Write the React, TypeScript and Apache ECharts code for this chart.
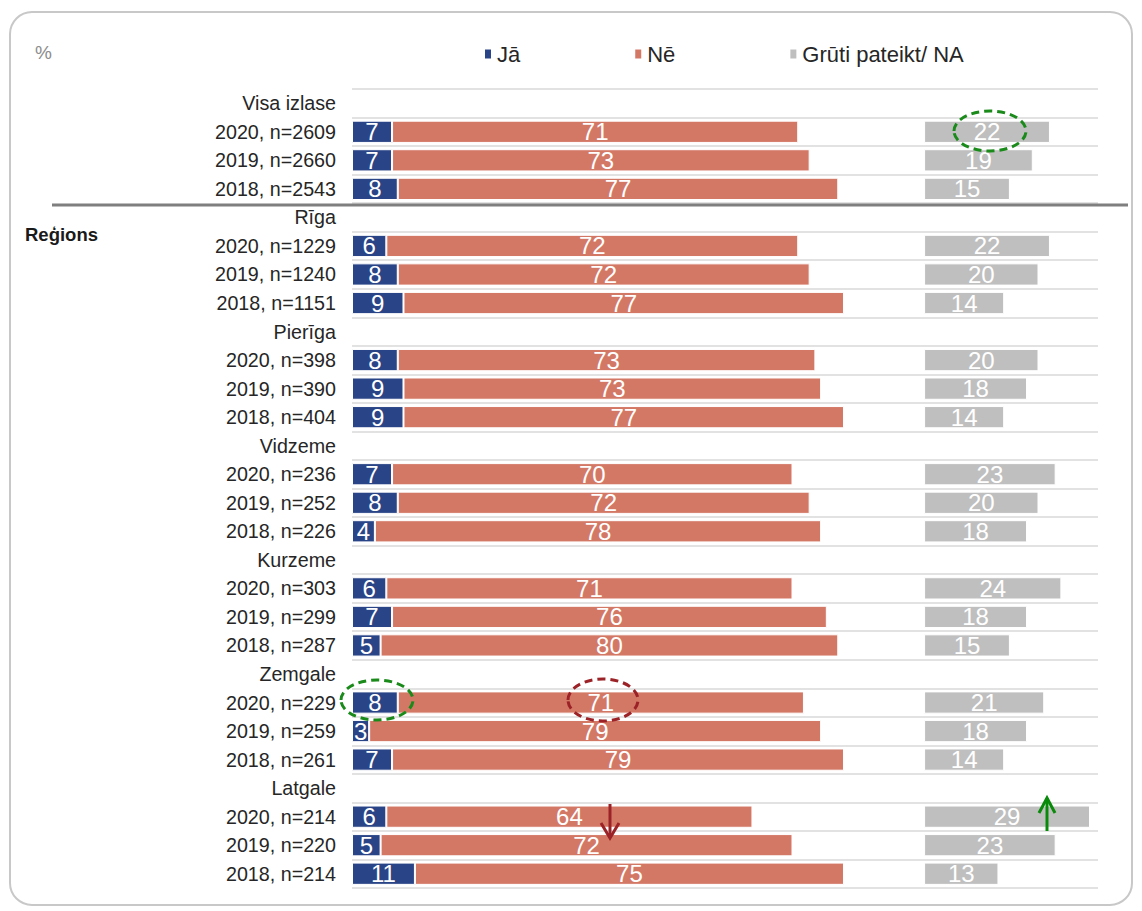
import React, { useEffect, useRef } from "react";
import * as echarts from "echarts";

const categories = [
  "Visa izlase", "2020, n=2609", "2019, n=2660", "2018, n=2543",
  "Rīga", "2020, n=1229", "2019, n=1240", "2018, n=1151",
  "Pierīga", "2020, n=398", "2019, n=390", "2018, n=404",
  "Vidzeme", "2020, n=236", "2019, n=252", "2018, n=226",
  "Kurzeme", "2020, n=303", "2019, n=299", "2018, n=287",
  "Zemgale", "2020, n=229", "2019, n=259", "2018, n=261",
  "Latgale", "2020, n=214", "2019, n=220", "2018, n=214",
];

const ja = [null, 7, 7, 8, null, 6, 8, 9, null, 8, 9, 9, null, 7, 8, 4, null, 6, 7, 5, null, 8, 3, 7, null, 6, 5, 11];
const ne = [null, 71, 73, 77, null, 72, 72, 77, null, 73, 73, 77, null, 70, 72, 78, null, 71, 76, 80, null, 71, 79, 79, null, 64, 72, 75];
const na = [null, 22, 19, 15, null, 22, 20, 14, null, 20, 18, 14, null, 23, 20, 18, null, 24, 18, 15, null, 21, 18, 14, null, 29, 23, 13];

const seriesNames = ["Jā", "Nē", "Grūti pateikt/ NA"];
const NA_OFFSET = 100;

const FONT = "'Liberation Sans', Arial, sans-serif";

export default function App() {
  const ref = useRef<HTMLDivElement>(null);
  useEffect(() => {
    document.body.style.margin = "0";
    const chart = echarts.init(ref.current!, null, { renderer: "svg" });
    const spacer = ja.map((v, i) => (v == null ? null : NA_OFFSET - (v as number) - (ne[i] as number)));
    const label = {
      show: true,
      position: "inside",
      color: "#ffffff",
      fontSize: 24,
      fontFamily: FONT,
      formatter: (p: any) => (p.value == null ? "" : String(p.value)),
    };
    const green = "#1a8a1a";
    const red = "#9b2226";
    const arrowGreen = "#0a8a0a";
    const Z = 100;
    chart.setOption({
      animation: false,
      textStyle: { fontFamily: FONT },
      grid: { left: 352, top: 89, width: 746, height: 799, containLabel: false },
      legend: {
        data: seriesNames,
        left: 478,
        top: 38,
        icon: "rect",
        itemWidth: 8,
        itemHeight: 11,
        itemGap: 113,
        textStyle: { fontSize: 22, color: "#262626", fontFamily: FONT },
      },
      xAxis: { type: "value", min: 0, max: 130.4, show: false },
      yAxis: {
        type: "category",
        inverse: true,
        data: categories,
        axisLine: { show: false },
        axisTick: { show: false },
        axisLabel: { interval: 0, fontSize: 19.7, color: "#262626", margin: 16, fontFamily: FONT },
        splitLine: { show: true, interval: 0, lineStyle: { color: "#d9d9d9", width: 1.5 } },
      },
      series: [
        {
          name: seriesNames[0], type: "bar", stack: "s", data: ja, barCategoryGap: "22%",
          itemStyle: { color: "#2a4587", borderColor: "#ffffff", borderWidth: 1 }, label,
        },
        {
          name: seriesNames[1], type: "bar", stack: "s", data: ne,
          itemStyle: { color: "#d47866", borderColor: "#ffffff", borderWidth: 1 }, label,
        },
        {
          name: "spacer", type: "bar", stack: "s", data: spacer, silent: true,
          itemStyle: { color: "transparent" }, label: { show: false },
        },
        {
          name: seriesNames[2], type: "bar", stack: "s", data: na,
          itemStyle: { color: "#bfbfbf", borderColor: "#ffffff", borderWidth: 1 }, label,
        },
      ],
      graphic: [
        { type: "rect", shape: { x: 10, y: 12, width: 1122, height: 893, r: 22 }, style: { fill: "none", stroke: "#c8c8c8", lineWidth: 2 }, silent: true },
        { type: "text", x: 35, y: 43, style: { text: "%", fontSize: 19, fill: "#8c8c8c", fontFamily: FONT } },
        { type: "text", x: 25, y: 225, style: { text: "Reģions", fontSize: 18.5, fontWeight: "bold", fill: "#1a1a1a", fontFamily: FONT } },
        { type: "line", z: Z, shape: { x1: 52, y1: 205, x2: 1128, y2: 205 }, style: { stroke: "#7f7f7f", lineWidth: 3 } },
        { type: "ellipse", z: Z, shape: { cx: 990, cy: 131, rx: 36, ry: 20 }, style: { fill: "none", stroke: green, lineWidth: 3, lineDash: [8, 5] } },
        { type: "ellipse", z: Z, shape: { cx: 377, cy: 700, rx: 36, ry: 20 }, style: { fill: "none", stroke: green, lineWidth: 3, lineDash: [8, 5] } },
        { type: "ellipse", z: Z, shape: { cx: 603, cy: 700, rx: 35, ry: 21 }, style: { fill: "none", stroke: red, lineWidth: 3, lineDash: [8, 5] } },
        { type: "line", z: Z, shape: { x1: 610, y1: 804, x2: 610, y2: 838 }, style: { stroke: red, lineWidth: 3 } },
        { type: "polyline", z: Z, shape: { points: [[601, 823], [610, 838], [619, 823]] }, style: { fill: "none", stroke: red, lineWidth: 3 } },
        { type: "line", z: Z, shape: { x1: 1047, y1: 831, x2: 1047, y2: 798 }, style: { stroke: arrowGreen, lineWidth: 3 } },
        { type: "polyline", z: Z, shape: { points: [[1039, 813], [1047, 798], [1055, 813]] }, style: { fill: "none", stroke: arrowGreen, lineWidth: 3 } },
      ],
    });
    return () => chart.dispose();
  }, []);
  return <div ref={ref} style={{ width: 1142, height: 911 }} />;
}
